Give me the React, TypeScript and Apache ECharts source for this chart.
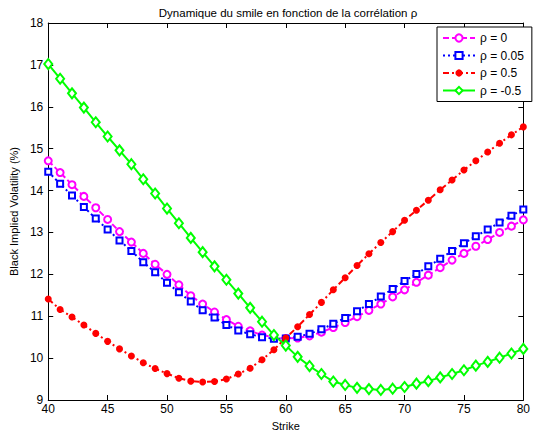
import React, { useEffect, useRef } from "react";
import * as echarts from "echarts";

const strikes = [40,41,42,43,44,45,46,47,48,49,50,51,52,53,54,55,56,57,58,59,60,61,62,63,64,65,66,67,68,69,70,71,72,73,74,75,76,77,78,79,80];

const rho0 = [14.71,14.43,14.14,13.86,13.59,13.31,13.02,12.77,12.5,12.24,12.0,11.75,11.49,11.29,11.1,10.92,10.76,10.65,10.55,10.5,10.47,10.48,10.53,10.62,10.73,10.85,10.99,11.14,11.29,11.46,11.63,11.81,11.98,12.16,12.34,12.5,12.67,12.83,13.0,13.15,13.3];
const rho005 = [14.45,14.16,13.88,13.61,13.33,13.07,12.81,12.56,12.29,12.05,11.8,11.57,11.35,11.14,10.97,10.79,10.66,10.57,10.5,10.46,10.47,10.51,10.58,10.69,10.82,10.96,11.12,11.29,11.47,11.65,11.84,12.01,12.19,12.37,12.56,12.74,12.91,13.07,13.24,13.4,13.55];
const rho05 = [11.41,11.16,10.98,10.79,10.59,10.4,10.22,10.05,9.89,9.75,9.63,9.52,9.45,9.43,9.44,9.5,9.62,9.76,9.96,10.2,10.48,10.75,11.04,11.33,11.63,11.92,12.21,12.49,12.76,13.02,13.29,13.53,13.77,14.02,14.25,14.49,14.71,14.92,15.13,15.33,15.52];
const rhoM05 = [17.02,16.67,16.32,15.98,15.63,15.29,14.96,14.63,14.27,13.93,13.57,13.22,12.87,12.53,12.19,11.87,11.54,11.2,10.87,10.55,10.3,10.03,9.81,9.62,9.44,9.36,9.29,9.26,9.24,9.27,9.31,9.39,9.45,9.54,9.62,9.71,9.82,9.91,10.01,10.11,10.22];

const seriesNames = ["ρ = 0", "ρ = 0.05", "ρ = 0.5", "ρ = -0.5"];
const xTicks = { min: 40, max: 80, interval: 5 };
const yTicks = { min: 9, max: 18, interval: 1 };

const FONT = "Liberation Sans, Arial, Helvetica, sans-serif";

export default function App() {
  const ref = useRef<HTMLDivElement>(null);
  useEffect(() => {
    document.body.style.margin = "0";
    if (!ref.current) return;
    const chart = echarts.init(ref.current, undefined, { renderer: "svg" });
    const pair = (ys: number[]) => strikes.map((x, i) => [x, ys[i]]);
    const axisCommon = {
      axisLine: { show: true, lineStyle: { color: "#000", width: 1 } },
      axisTick: { show: true, inside: true, length: 5, lineStyle: { color: "#000" } },
      splitLine: { show: false },
    };
    chart.setOption({
      animation: false,
      backgroundColor: "#fff",
      textStyle: { fontFamily: FONT },
      title: {
        text: "Dynamique du smile en fonction de la corrélation ρ",
        left: 283,
        textAlign: "center",
        top: 2,
        textStyle: { fontSize: 11.5, fontWeight: "normal", color: "#000", fontFamily: FONT },
      },
      grid: { left: 39, right: 6, top: 23, bottom: 28, containLabel: false },
      legend: {
        orient: "vertical",
        left: 437,
        top: 27,
        backgroundColor: "#fff",
        borderColor: "#000",
        borderWidth: 1,
        borderRadius: 0,
        padding: [5, 8, 5, 5],
        itemWidth: 32,
        itemHeight: 9,
        itemGap: 5.5,
        textStyle: { fontSize: 12, color: "#000", fontFamily: FONT },
        data: seriesNames,
      },
      xAxis: [
        {
          type: "value",
          ...xTicks,
          name: "Strike",
          nameLocation: "middle",
          nameGap: 20,
          nameTextStyle: { fontSize: 11, color: "#000", fontFamily: FONT },
          ...axisCommon,
          axisLabel: { color: "#000", fontSize: 12, margin: 3, fontFamily: FONT },
        },
        {
          type: "value",
          position: "top",
          ...xTicks,
          ...axisCommon,
          axisLabel: { show: false },
        },
      ],
      yAxis: [
        {
          type: "value",
          ...yTicks,
          name: "Black Implied Volatility (%)",
          nameLocation: "middle",
          nameGap: 26,
          nameTextStyle: { fontSize: 11, color: "#000", fontFamily: FONT },
          ...axisCommon,
          axisLabel: { color: "#000", fontSize: 12, margin: 5, fontFamily: FONT },
        },
        {
          type: "value",
          position: "right",
          ...yTicks,
          ...axisCommon,
          axisLabel: { show: false },
        },
      ],
      series: [
        {
          name: seriesNames[0],
          type: "line",
          data: pair(rho0),
          symbol: "emptyCircle",
          symbolSize: 7,
          lineStyle: { color: "#ff00ff", width: 2, type: [6, 3] },
          itemStyle: { color: "#ff00ff", borderWidth: 2 },
          z: 2,
        },
        {
          name: seriesNames[1],
          type: "line",
          data: pair(rho005),
          symbol: "emptyRect",
          symbolSize: 6,
          lineStyle: { color: "#0000ff", width: 2, type: [2, 3] },
          itemStyle: { color: "#0000ff", borderWidth: 2 },
          z: 3,
        },
        {
          name: seriesNames[2],
          type: "line",
          data: pair(rho05),
          symbol: "circle",
          symbolSize: 7,
          lineStyle: { color: "#ff0000", width: 2, type: [6, 3, 2, 3] },
          itemStyle: { color: "#ff0000" },
          z: 4,
        },
        {
          name: seriesNames[3],
          type: "line",
          data: pair(rhoM05),
          symbol: "emptyDiamond",
          symbolSize: [8, 10],
          lineStyle: { color: "#00ff00", width: 2, type: "solid" },
          itemStyle: { color: "#00ff00", borderWidth: 2 },
          z: 5,
        },
      ],
    });
    return () => chart.dispose();
  }, []);
  return <div ref={ref} style={{ width: 533, height: 436 }} />;
}
